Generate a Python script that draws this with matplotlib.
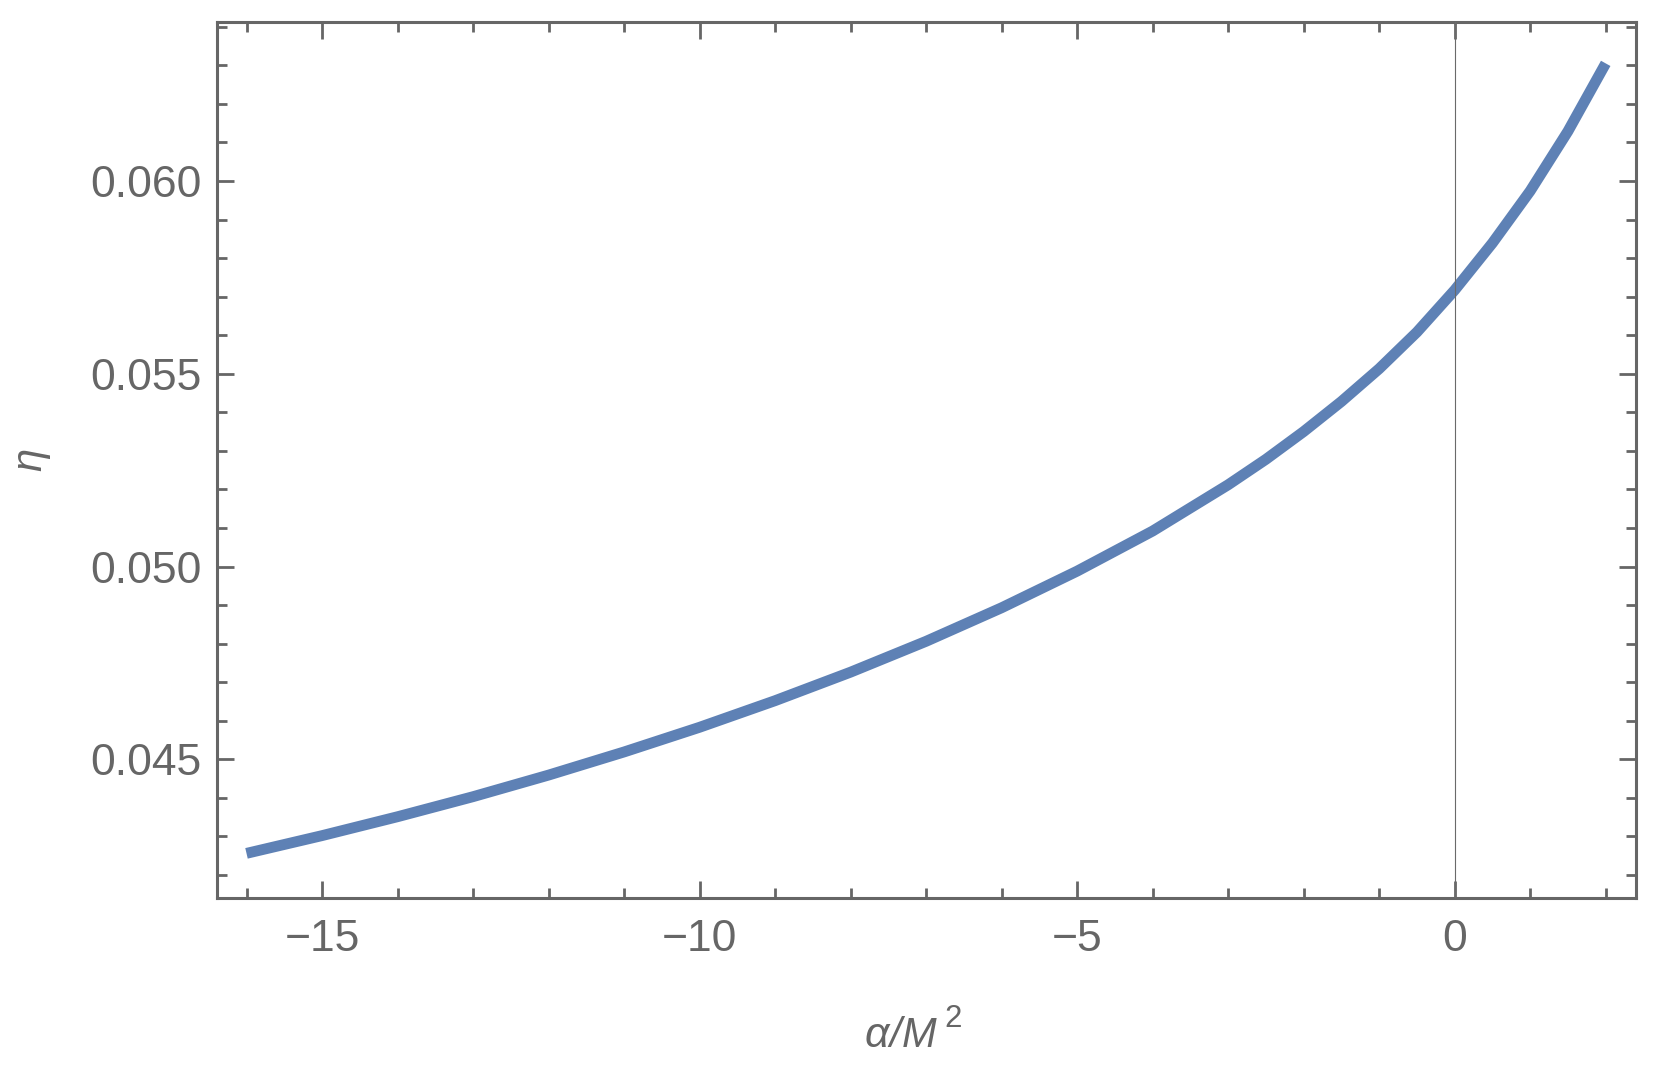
import matplotlib
matplotlib.use("Agg")
import matplotlib.pyplot as plt
from matplotlib.ticker import MultipleLocator, FixedLocator
from matplotlib.font_manager import FontProperties

# Data
alpha_vals = [-16, -15, -14, -13, -12, -11, -10, -9, -8, -7, -6, -5, -4, -3,
              -2.5, -2, -1.5, -1, -0.5, 0, 0.5, 1, 1.5, 2]
eta_vals = [0.04256, 0.04302, 0.04351, 0.04403, 0.04459, 0.04519, 0.04583, 0.04652,
            0.04726, 0.04806, 0.04893, 0.04988, 0.05092, 0.05212,
            0.05278, 0.05350, 0.05428, 0.05513, 0.05608, 0.05717, 0.05839, 0.05974,
            0.06129, 0.06305]
x_major = [-15, -10, -5, 0]
x_labels = ['\u221215', '\u221210', '\u22125', '0']
y_major = [0.045, 0.050, 0.055, 0.060]
y_labels = ["0.045", "0.050", "0.055", "0.060"]

plt.rcParams['mathtext.fontset'] = 'custom'
plt.rcParams['mathtext.rm'] = 'Liberation Sans'
plt.rcParams['mathtext.it'] = 'Liberation Sans:italic'

gray = '#666666'
W, H = 1671, 1077
fig = plt.figure(figsize=(W / 100, H / 100), dpi=100)
ax = fig.add_axes([0.1299, 0.1662, 0.9790 - 0.1299, 0.9796 - 0.1662])

ax.plot(alpha_vals, eta_vals, color='#5E81B5', lw=7.8, solid_capstyle='butt',
        solid_joinstyle='round', zorder=2)
ax.axvline(0, color='#6a6a6a', lw=0.8, zorder=3)

ax.set_xlim(-16.39, 2.40)
ax.set_ylim(0.041402, 0.064124)

ax.xaxis.set_major_locator(FixedLocator(x_major))
ax.xaxis.set_minor_locator(MultipleLocator(1))
ax.yaxis.set_major_locator(FixedLocator(y_major))
ax.yaxis.set_minor_locator(MultipleLocator(0.001))
ax.set_xticklabels(x_labels)
ax.set_yticklabels(y_labels)

for s in ax.spines.values():
    s.set_color(gray)
    s.set_linewidth(2.2)

ax.tick_params(which='both', direction='in', top=True, right=True, color=gray,
               width=2.0, labelcolor=gray)
ax.tick_params(which='major', length=12.5)
ax.tick_params(which='minor', length=7.5)
ax.tick_params(axis='x', which='major', pad=15, labelsize=32)
ax.tick_params(axis='y', which='major', pad=11, labelsize=32)
for lab in ax.get_xticklabels() + ax.get_yticklabels():
    lab.set_family('Liberation Sans')

# y label
ax.set_ylabel(r'$\eta$', fontsize=30, color=gray, labelpad=27)

# x label  alpha/M^2 assembled from pieces placed like the reference
fp_a = FontProperties(family='Liberation Sans', style='italic', size=31)
fp_m = FontProperties(family='Liberation Sans', style='italic', size=30)
fp_s = FontProperties(family='Liberation Sans', style='normal', size=22.5)
base_y = 1 - 1046.7 / H
fig.text(865.0 / W, base_y, '\u03b1', fontproperties=fp_a, color=gray,
         ha='left', va='baseline')
fig.text(889.0 / W, base_y, '/', fontproperties=fp_m, color=gray,
         ha='left', va='baseline')
fig.text(902.0 / W, base_y, 'M', fontproperties=fp_m, color=gray,
         ha='left', va='baseline')
fig.text(944.0 / W, 1 - 1026.7 / H, '2', fontproperties=fp_s,
         color=gray, ha='left', va='baseline')

fig.savefig('out.png', dpi=100)
